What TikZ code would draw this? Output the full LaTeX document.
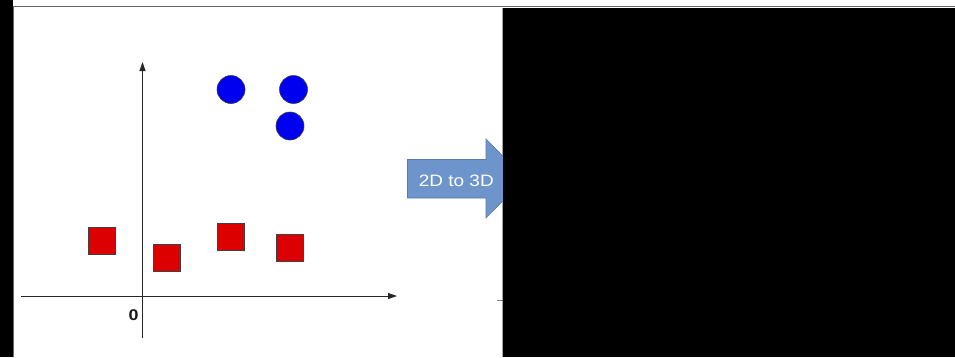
\documentclass[tikz,border=0pt]{standalone}
\usepackage{fontspec}
\setmainfont{Liberation Sans}
\usetikzlibrary{shapes.arrows,arrows.meta}
\definecolor{arrowblue}{HTML}{6D95CC}
\definecolor{arrowedge}{HTML}{5A7BAA}
\definecolor{sqred}{HTML}{DD0000}
\definecolor{dotblue}{HTML}{0000F0}
\tikzset{
  sq/.style={draw=black!75, fill=sqred, line width=0.6pt, minimum size=27pt, inner sep=0pt},
  dot/.style={circle, draw=black!75, fill=dotblue, line width=0.6pt, minimum size=28pt, inner sep=0pt},
  axis/.style={draw=black!85, line width=0.8pt, -{Triangle[length=9pt,width=6pt]}},
}
\begin{document}
\begin{tikzpicture}[x=1pt,y=-1pt]
\useasboundingbox (0,0) rectangle (955,357);
\fill[white] (0,0) rectangle (955,357);
% left black strip
\fill[black] (0,0) rectangle (12.5,357);
% frame
\draw[gray!80!black, line width=1.2pt] (13.5,357) -- (13.5,6.5) -- (955,6.5);
\draw[gray!70, line width=1pt] (502,8) -- (502,357);
% axes
\coordinate (xs) at (21,296);
\coordinate (xe) at (397,296);
\coordinate (ys) at (142.5,338);
\coordinate (ye) at (142.5,62);
\draw[axis] (xs) -- (xe);
\draw[axis] (ys) -- (ye);
\node[font=\bfseries\fontsize{15.5}{17}\selectfont, text=black!90, xscale=1.15, inner sep=0pt] (zero) at (133.7,315) {0};
% tick
\coordinate (t1) at (497,300);
\coordinate (t2) at (503,300);
\draw[gray, line width=1pt] (t1) -- (t2);
% circles
\node[dot] (c1) at (231,89.5) {};
\node[dot] (c2) at (293.5,89.5) {};
\node[dot] (c3) at (290,126) {};
% squares
\node[sq] (s1) at (102,241) {};
\node[sq] (s2) at (166.5,258) {};
\node[sq] (s3) at (230.5,236.7) {};
\node[sq] (s4) at (290,248) {};
% block arrow
\draw[fill=arrowblue, draw=arrowedge, line width=0.6pt]
  (407.5,159.5) -- (486,159.5) -- (486,139) -- (525,178.5) -- (486,218) -- (486,198) -- (407.5,198) -- cycle;
\node[text=white, font=\fontsize{16.5}{18}\selectfont, xscale=1.15, inner sep=0pt] (lbl) at (456.3,180.5) {2D to 3D};
% right black panel
\fill[black] (503,8) rectangle (955,357);
\end{tikzpicture}
\end{document}
